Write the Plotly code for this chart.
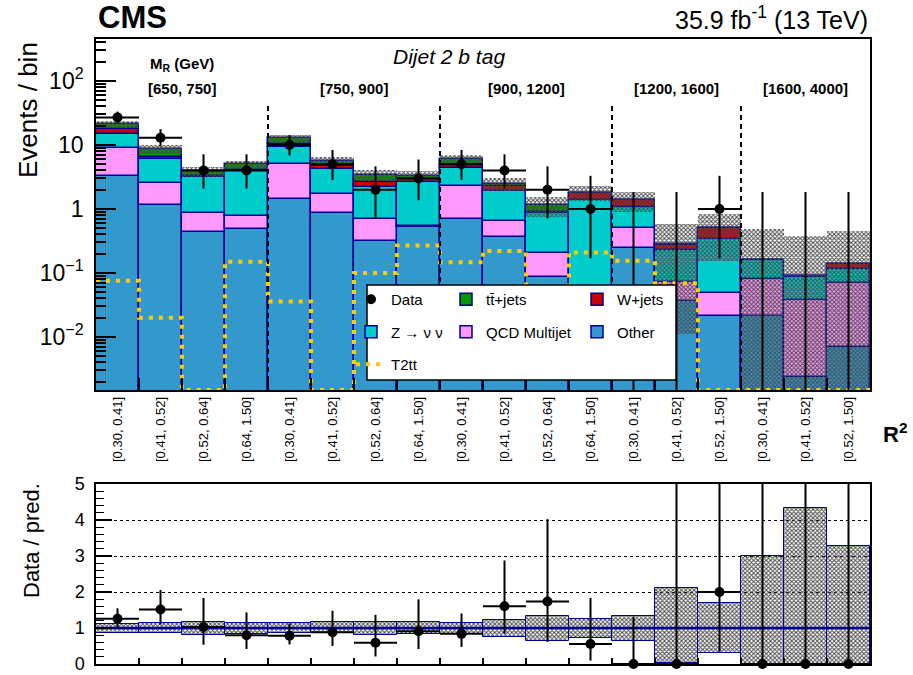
import numpy as np
import plotly.graph_objects as go

# ---------------- data ----------------
bin_labels = ["[0.30, 0.41]", "[0.41, 0.52]", "[0.52, 0.64]", "[0.64, 1.50]",
              "[0.30, 0.41]", "[0.41, 0.52]", "[0.52, 0.64]", "[0.64, 1.50]",
              "[0.30, 0.41]", "[0.41, 0.52]", "[0.52, 0.64]", "[0.64, 1.50]",
              "[0.30, 0.41]", "[0.41, 0.52]", "[0.52, 1.50]",
              "[0.30, 0.41]", "[0.41, 0.52]", "[0.52, 1.50]"]
mr_groups = ["[650, 750]", "[750, 900]", "[900, 1200]", "[1200, 1600]", "[1600, 4000]"]
mr_group_sizes = [4, 4, 4, 3, 3]

other = [3.3, 1.15, 0.44, 0.48, 1.42, 0.88, 0.32, 0.53, 0.71, 0.36, 0.087, 0.03,
         0.243, 0.036, 0.021, 0.021, 0.0024, 0.0071]
qcd = [5.6, 1.43, 0.42, 0.30, 3.57, 0.82, 0.37, 0.005, 1.58, 0.29, 0.116, 0.005,
       0.267, 0.037, 0.027, 0.059, 0.0356, 0.062]
znunu = [6.0, 3.39, 2.27, 3.12, 4.41, 2.47, 1.49, 2.13, 2.01, 1.28, 0.66, 1.345,
         0.58, 0.157, 0.292, 0.08, 0.0495, 0.046]
wjets = [3.1, 0.63, 0.12, 0.2, 0.9, 0.6, 0.49, 0.23, 0.57, 0.36, 0.04, 0.38,
         0.29, 0.044, 0.16, 0.002, 0.001, 0.021]
ttjets = [3.5, 2.0, 0.65, 0.9, 2.4, 0.9, 0.73, 0.4, 1.1, 0.2, 0.25, 0.04,
          0.02, 0.006, 0.0, 0.0, 0.0, 0.0]
data = [27, 13, 4, 4, 10, 5, 2, 3, 5, 4, 2, 1, 0, 0, 1, 0, 0, 0]
data_err_lo = [5.15, 3.56, 1.91, 1.91, 3.11, 2.16, 1.29, 1.63, 2.16, 1.91, 1.29, 0.83,
               0, 0, 0.83, 0, 0, 0]
data_err_hi = [6.26, 4.67, 3.16, 3.16, 4.27, 3.38, 2.64, 2.92, 3.38, 3.16, 2.64, 2.30,
               1.84, 1.84, 2.30, 1.84, 1.84, 1.84]
t2tt = [0.076, 0.020, 0, 0.15, 0.036, 0, 0.10, 0.27, 0.147, 0.22, 0.04, 0.21,
        0.155, 0.069, 0, 0, 0, 0]
unc_up = [1.11, 1.15, 1.18, 1.14, 1.14, 1.16, 1.18, 1.18, 1.15, 1.22, 1.34, 1.25,
          1.34, 2.10, 1.69, 3.00, 4.34, 3.28]
unc_down = [0.87, 0.85, 0.81, 0.84, 0.86, 0.86, 0.81, 0.84, 0.84, 0.76, 0.65, 0.73,
            0.65, 0.04, 0.31, 0.0, 0.0, 0.0]

# ---------------- derived ----------------
FONT = "Liberation Sans, Arial, Helvetica, sans-serif"
NAVY = "#000099"
nb = len(bin_labels)
x = np.arange(nb)
edges = np.arange(nb + 1) - 0.5
YLO, YHI = -2.828, 2.656
floor = 10 ** YLO

comps = [("Other", other, "#3399cc", "legend3", 2),
         ("QCD Multijet", qcd, "#ff99ff", "legend2", 2),
         ("Z \u2192 \u03bd \u03bd", znunu, "#00cccc", "legend", 2),
         ("W+jets", wjets, "#cc0000", "legend3", 1),
         ("tt\u0304+jets", ttjets, "#009900", "legend2", 1)]

fig = go.Figure()
cum = np.zeros(nb)
for name, vals, col, leg, rank in comps:
    v = np.array(vals, dtype=float)
    fig.add_trace(go.Bar(x=x, y=v, base=cum.copy(), width=1, name=name,
                         marker=dict(color=col, line=dict(color=NAVY, width=1.5)),
                         legend=leg, legendgroup=name, legendrank=rank,
                         xaxis="x", yaxis="y"))
    cum = cum + v
total = cum
up = np.array(unc_up)
dn = np.array(unc_down)

pattern = dict(shape="x", size=3, solidity=0.55, fgcolor="#4a4a4a",
               bgcolor="rgba(255,255,255,0)", fillmode="replace")
fig.add_trace(go.Bar(x=x, y=total * (up - dn), base=total * dn, width=1,
                     marker=dict(color="rgba(255,255,255,0)", pattern=pattern,
                                 line=dict(width=0)),
                     showlegend=False, xaxis="x", yaxis="y", hoverinfo="skip"))

# T2tt step line
t2 = np.array(t2tt, dtype=float)
t2p = np.where(t2 > 0, t2, floor)
sx = np.repeat(edges, 2)[1:-1]
sy = np.repeat(t2p, 2)
fig.add_trace(go.Scatter(x=sx, y=sy, mode="lines", name="T2tt",
                         line=dict(color="#ffcc00", width=4, dash="4px,6px"),
                         legend="legend", legendgroup="T2tt", legendrank=3,
                         xaxis="x", yaxis="y"))

d = np.array(data, dtype=float)
elo = np.array(data_err_lo)
ehi = np.array(data_err_hi)
nz = d > 0
fig.add_trace(go.Scatter(x=x[nz], y=d[nz], mode="markers", name="Data",
                         marker=dict(color="black", size=10),
                         error_y=dict(type="data", symmetric=False, array=ehi[nz],
                                      arrayminus=elo[nz], color="black", thickness=2, width=0),
                         error_x=dict(type="constant", value=0.5, color="black",
                                      thickness=2, width=0),
                         legend="legend", legendgroup="Data", legendrank=1,
                         xaxis="x", yaxis="y"))
z = ~nz
fig.add_trace(go.Scatter(x=x[z], y=d[z] + ehi[z], mode="markers",
                         marker=dict(color="black", size=1, opacity=0),
                         error_y=dict(type="data", symmetric=False, array=np.zeros(z.sum()),
                                      arrayminus=d[z] + ehi[z], color="black",
                                      thickness=2, width=0),
                         showlegend=False, xaxis="x", yaxis="y", hoverinfo="skip"))

# ---------------- ratio panel ----------------
fig.add_trace(go.Bar(x=x, y=up - dn, base=dn, width=1,
                     marker=dict(color="rgba(255,255,255,0)", pattern=pattern,
                                 line=dict(color=NAVY, width=1)),
                     showlegend=False, xaxis="x2", yaxis="y2", hoverinfo="skip"))
fig.add_trace(go.Scatter(x=[edges[0], edges[-1]], y=[1, 1], mode="lines",
                         line=dict(color=NAVY, width=2.5), showlegend=False,
                         xaxis="x2", yaxis="y2", hoverinfo="skip"))
ratio = d / total
fig.add_trace(go.Scatter(x=x, y=ratio, mode="markers",
                         marker=dict(color="black", size=1, opacity=0),
                         error_y=dict(type="data", symmetric=False, array=ehi / total,
                                      arrayminus=elo / total, color="black", thickness=2, width=0),
                         error_x=dict(type="constant", value=0.5, color="black",
                                      thickness=2, width=0),
                         showlegend=False, xaxis="x2", yaxis="y2", hoverinfo="skip"))
fig.add_trace(go.Scatter(x=x, y=ratio, mode="markers", cliponaxis=False,
                         marker=dict(color="black", size=10),
                         showlegend=False, xaxis="x2", yaxis="y2"))

# ---------------- layout ----------------
W, H = 913, 675
ML, MR, MT, MB = 96, 43, 39, 11
PW, PH = W - ML - MR, H - MT - MB


def px(xp):
    return (xp - ML) / PW


def py(yp):
    return (H - MB - yp) / PH


top_dom = [py(390), 1.0]
bot_dom = [0.0, py(484)]

minor_log = [m * 10 ** e for e in range(-3, 3) for m in range(2, 10)
             if YLO < np.log10(m * 10 ** e) < YHI]

axis_common = dict(showline=True, linecolor="black", linewidth=1.5, mirror=True,
                   showgrid=False, zeroline=False, automargin=False)

bounds = np.cumsum(mr_group_sizes)[:-1] - 0.5
starts = np.concatenate([[0], np.cumsum(mr_group_sizes)[:-1]])
centers = starts + np.array(mr_group_sizes) / 2 - 0.5

shapes = []
for b in bounds:
    shapes.append(dict(type="line", xref="x", yref="y", x0=b, x1=b, y0=floor, y1=45,
                       line=dict(color="black", width=2, dash="5px,4px"), layer="above"))
shapes.append(dict(type="rect", xref="paper", yref="paper",
                   x0=px(367), x1=px(676), y0=py(380), y1=py(285),
                   fillcolor="white", line=dict(color="black", width=1.5), layer="above"))

ann = [
    dict(text="<b>CMS</b>", x=0, y=py(18), xref="paper", yref="paper", xanchor="left",
         yanchor="middle", showarrow=False, font=dict(size=31, family=FONT, color="black")),
    dict(text="35.9 fb<sup>-1</sup> (13 TeV)", x=1.0, y=py(18), xref="paper", yref="paper",
         xanchor="right", yanchor="middle", showarrow=False,
         font=dict(size=25, family=FONT, color="black")),
    dict(text="<i>Dijet 2 b tag</i>", x=px(449), y=py(56), xref="paper", yref="paper",
         xanchor="center", yanchor="middle", showarrow=False,
         font=dict(size=21, family=FONT, color="black")),
    dict(text="<b>M<sub>R</sub> (GeV)</b>", x=centers[0], y=py(64), xref="x", yref="paper",
         xanchor="center", yanchor="middle", showarrow=False,
         font=dict(size=15, family=FONT, color="black")),
    dict(text="Events / bin", x=px(28), y=py(110), xref="paper", yref="paper",
         textangle=-90, xanchor="center", yanchor="middle", showarrow=False,
         font=dict(size=26, family=FONT, color="black")),
    dict(text="Data / pred.", x=px(31), y=py(541), xref="paper", yref="paper",
         textangle=-90, xanchor="center", yanchor="middle", showarrow=False,
         font=dict(size=22, family=FONT, color="black")),
    dict(text="<b>R<sup>2</sup></b>", x=px(895), y=py(433), xref="paper", yref="paper",
         xanchor="center", yanchor="middle", showarrow=False,
         font=dict(size=22, family=FONT, color="black")),
]
for c, lab in zip(centers, mr_groups):
    ann.append(dict(text="<b>" + lab + "</b>", x=c, y=py(89), xref="x", yref="paper",
                    xanchor="center", yanchor="middle", showarrow=False,
                    font=dict(size=15, family=FONT, color="black")))

leg_common = dict(xanchor="left", yanchor="top", bgcolor="rgba(0,0,0,0)",
                  font=dict(size=15, family=FONT, color="black"),
                  tracegroupgap=10, itemwidth=30, borderwidth=0)

fig.update_layout(
    width=W, height=H, margin=dict(l=ML, r=MR, t=MT, b=MB, autoexpand=False),
    paper_bgcolor="white", plot_bgcolor="white",
    barmode="overlay", bargap=0,
    font=dict(family=FONT, color="black"),
    xaxis=dict(domain=[0, 1], anchor="y", range=[edges[0], edges[-1]],
               tickmode="array", tickvals=x, ticktext=bin_labels, tickangle=-90,
               ticks="inside", ticklen=0, tickfont=dict(size=13, family=FONT),
               minor=dict(tickmode="array", tickvals=edges[1:-1], ticks="inside",
                          ticklen=12, tickwidth=1.5, tickcolor="black"),
               **axis_common),
    yaxis=dict(domain=top_dom, anchor="x", type="log", range=[YLO, YHI],
               tickmode="array", tickvals=[0.01, 0.1, 1, 10, 100],
               ticktext=["10<sup>\u22122</sup>", "10<sup>\u22121</sup>", "1", "10",
                         "10<sup>2</sup>"],
               ticks="inside", ticklen=20, tickwidth=1.5, tickcolor="black",
               ticklabelstandoff=6, tickfont=dict(size=23, family=FONT),
               minor=dict(tickmode="array", tickvals=minor_log, ticks="inside",
                          ticklen=10, tickwidth=1.5, tickcolor="black"),
               **axis_common),
    xaxis2=dict(domain=[0, 1], anchor="y2", matches="x", range=[edges[0], edges[-1]],
                tickmode="array", tickvals=edges[1:-1], showticklabels=False,
                ticks="inside", ticklen=6, tickwidth=1.5, tickcolor="black",
                **axis_common),
    yaxis2=dict(domain=bot_dom, anchor="x2", range=[0, 5],
                tickmode="array", tickvals=[0, 1, 2, 3, 4, 5],
                ticks="inside", ticklen=16, tickwidth=1.5, tickcolor="black",
                ticklabelstandoff=6, tickfont=dict(size=18, family=FONT),
                minor=dict(dtick=0.2, ticks="inside", ticklen=8, tickwidth=1,
                           tickcolor="black"),
                showline=True, linecolor="black", linewidth=1.5, mirror=True,
                showgrid=True, gridcolor="black", gridwidth=1, griddash="dot",
                zeroline=False, automargin=False),
    legend=dict(x=px(351), y=py(283), **leg_common),
    legend2=dict(x=px(446), y=py(283), **leg_common),
    legend3=dict(x=px(577), y=py(283), **leg_common),
    shapes=shapes, annotations=ann, showlegend=True,
)

fig.write_html("out.html", config={"displayModeBar": False},
               post_script="document.body.style.margin='0px';"
                           "document.documentElement.style.overflow='hidden';")
